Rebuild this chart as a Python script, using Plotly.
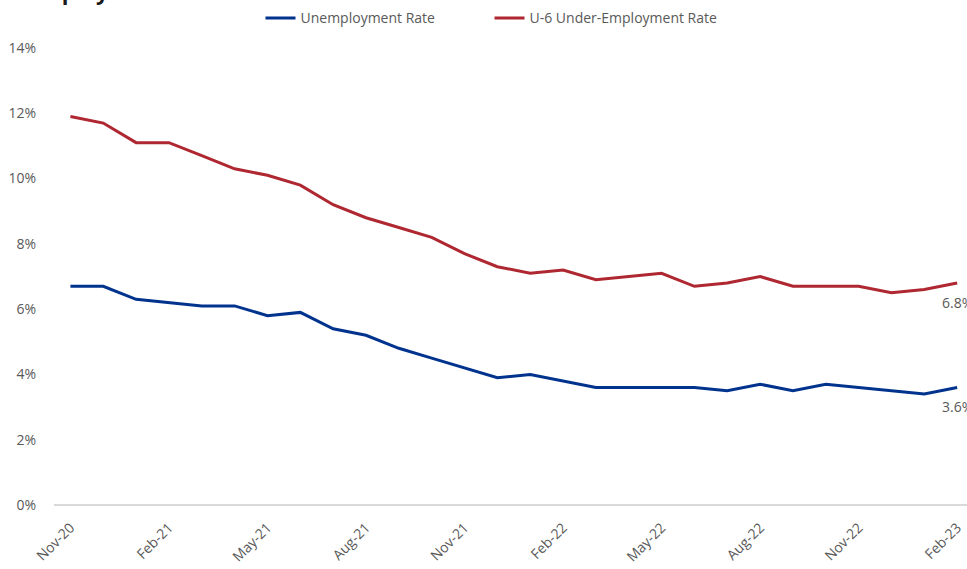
import plotly.graph_objects as go

months = ["Nov-20", "Dec-20", "Jan-21", "Feb-21", "Mar-21", "Apr-21", "May-21", "Jun-21",
          "Jul-21", "Aug-21", "Sep-21", "Oct-21", "Nov-21", "Dec-21", "Jan-22", "Feb-22",
          "Mar-22", "Apr-22", "May-22", "Jun-22", "Jul-22", "Aug-22", "Sep-22", "Oct-22",
          "Nov-22", "Dec-22", "Jan-23", "Feb-23"]
unemployment = [6.7, 6.7, 6.3, 6.2, 6.1, 6.1, 5.8, 5.9, 5.4, 5.2, 4.8, 4.5, 4.2, 3.9, 4.0, 3.8,
                3.6, 3.6, 3.6, 3.6, 3.5, 3.7, 3.5, 3.7, 3.6, 3.5, 3.4, 3.6]
u6 = [11.9, 11.7, 11.1, 11.1, 10.7, 10.3, 10.1, 9.8, 9.2, 8.8, 8.5, 8.2, 7.7, 7.3, 7.1, 7.2,
      6.9, 7.0, 7.1, 6.7, 6.8, 7.0, 6.7, 6.7, 6.7, 6.5, 6.6, 6.8]
tick_months = months[::3]
y_ticks = [0, 2, 4, 6, 8, 10, 12, 14]
y_tick_text = [f"{v}%" for v in y_ticks]

BLUE = "#00338D"
RED = "#AE2731"
GRAY = "#595959"
FONT = "Open Sans"

fig = go.Figure()
fig.add_trace(go.Scatter(x=months, y=unemployment, mode="lines", name="Unemployment Rate",
                         line=dict(color=BLUE, width=3)))
fig.add_trace(go.Scatter(x=months, y=u6, mode="lines", name="U-6 Under-Employment Rate",
                         line=dict(color=RED, width=3)))

for series in (u6, unemployment):
    fig.add_annotation(x=months[-1], y=series[-1], text=f"{series[-1]:.1f}%", showarrow=False,
                       xanchor="center", yanchor="top", yshift=-8,
                       font=dict(family=FONT, size=14, color=GRAY))

fig.add_annotation(xref="paper", yref="paper", x=-0.066, y=1, xanchor="left", yanchor="bottom",
                   yshift=40, text="<b>Unemployment</b>", showarrow=False,
                   font=dict(family=FONT, size=22, color="#1a1a1a"))

fig.update_layout(
    width=967, height=569,
    margin=dict(l=54, r=0, t=48, b=64, autoexpand=False),
    plot_bgcolor="white", paper_bgcolor="white",
    font=dict(family=FONT, size=14, color=GRAY),
    showlegend=True,
    legend=dict(orientation="h", x=0.477, xanchor="center", y=0.996, yanchor="top",
                yref="container", font=dict(family=FONT, size=14, color=GRAY),
                itemwidth=30, entrywidth=184),
    xaxis=dict(type="category", range=[-0.5, 27.3], tickmode="array", tickvals=tick_months,
               ticktext=tick_months, tickangle=-45, showgrid=False, showline=False,
               zeroline=False, ticks="outside", ticklen=8, tickcolor="rgba(0,0,0,0)",
               automargin=False, tickfont=dict(family=FONT, size=14, color=GRAY)),
    yaxis=dict(range=[0, 14], tickvals=y_ticks, ticktext=y_tick_text, showgrid=False,
               zeroline=True, zerolinecolor="#D9D9D9", zerolinewidth=1.5, showline=False,
               ticks="outside", ticklen=14, tickcolor="rgba(0,0,0,0)", automargin=False,
               tickfont=dict(family=FONT, size=14, color=GRAY)),
)

fig.write_html("out.html", config={"displayModeBar": False},
               post_script="document.body.style.margin='0px';document.body.style.overflow='hidden';")
